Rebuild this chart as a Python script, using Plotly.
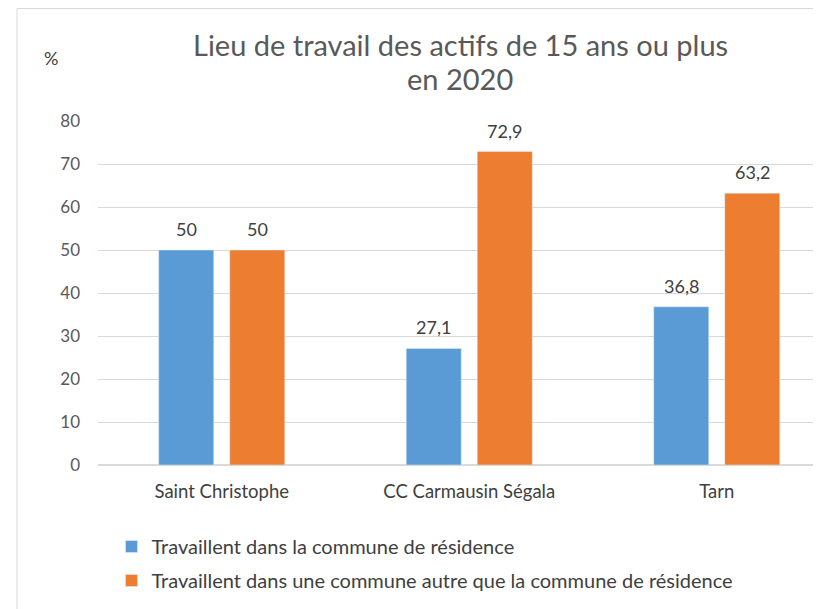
import plotly.graph_objects as go

# donnees
territoires = ["Saint Christophe", "CC Carmausin Ségala", "Tarn"]
dans_commune = [50, 27.1, 36.8]
autre_commune = [50, 72.9, 63.2]
series = ["Travaillent dans la commune de résidence",
          "Travaillent dans une commune autre que la commune de résidence"]
y_ticks = [0, 10, 20, 30, 40, 50, 60, 70, 80]

bleu = "#5B9BD5"
orange = "#ED7D31"
police = "Lato"

# zone de trace (en pixels de la figure)
G, H, T, B = 90, 731, 113, 457

def px_x(px):
    return (px - G) / H

def px_y(py):
    return (B - py) / (B - T)

def etiq(vals):
    return [str(v).replace(".", ",") for v in vals]

fig = go.Figure()
fig.add_trace(go.Bar(x=territoires, y=dans_commune, name=series[0], marker_color=bleu,
                     legendgroup="a"))
fig.add_trace(go.Bar(x=territoires, y=autre_commune, name=series[1], marker_color=orange,
                     legendgroup="b"))

# etiquettes de valeurs au-dessus des barres (decalage = demi-largeur d'un creneau du groupe)
demi = 0.1434
for i, v in enumerate(dans_commune):
    fig.add_annotation(x=i - demi, y=v, text=etiq([v])[0], showarrow=False,
                       yanchor="middle", yshift=21,
                       font=dict(family=police, size=18, color="#404040"))
for i, v in enumerate(autre_commune):
    fig.add_annotation(x=i + demi, y=v, text=etiq([v])[0], showarrow=False,
                       yanchor="middle", yshift=21,
                       font=dict(family=police, size=18, color="#404040"))

fig.update_layout(
    width=821, height=609,
    margin=dict(l=G, r=0, t=T, b=609 - B, autoexpand=False),
    paper_bgcolor="white", plot_bgcolor="white",
    font=dict(family=police, size=18, color="#595959"),
    barmode="group", bargap=0.426, bargroupgap=0.225,
    showlegend=True,
    legend=dict(orientation="v", x=px_x(103.5), xanchor="left", yref="container",
                y=(609 - 519) / 609, yanchor="top",
                font=dict(size=20, color="#404040"), tracegroupgap=5,
                itemwidth=30, bgcolor="rgba(0,0,0,0)"),
    xaxis=dict(range=[-0.5, -0.5 + H / 247.5], showgrid=False, showline=False, ticks="",
               ticklabelstandoff=13, tickfont=dict(size=18.5, color="#404040")),
    yaxis=dict(range=[0, 80], tickvals=y_ticks, showgrid=True, gridcolor="#D9D9D9",
               gridwidth=1, zeroline=True, zerolinecolor="#D9D9D9", showline=False,
               ticks="", ticklabelstandoff=17, tickfont=dict(size=17, color="#595959")),
)

fig.add_annotation(text="Lieu de travail des actifs de 15 ans ou plus",
                   xref="paper", yref="paper", x=px_x(452), y=px_y(36),
                   xanchor="center", yanchor="middle", showarrow=False,
                   font=dict(family=police, size=29, color="#595959"))
fig.add_annotation(text="en 2020",
                   xref="paper", yref="paper", x=px_x(452), y=px_y(70),
                   xanchor="center", yanchor="middle", showarrow=False,
                   font=dict(family=police, size=29, color="#595959"))
fig.add_annotation(text="%", xref="paper", yref="paper", x=px_x(34), y=px_y(50),
                   xanchor="left", yanchor="middle", showarrow=False,
                   font=dict(family=police, size=18, color="#404040"))

# cadre du graphique
fig.add_shape(type="rect", xref="paper", yref="paper",
              x0=px_x(9), x1=1.2, y0=-0.6, y1=px_y(0.5),
              line=dict(color="#D9D9D9", width=1), layer="below")

fig.write_html("out.html")
